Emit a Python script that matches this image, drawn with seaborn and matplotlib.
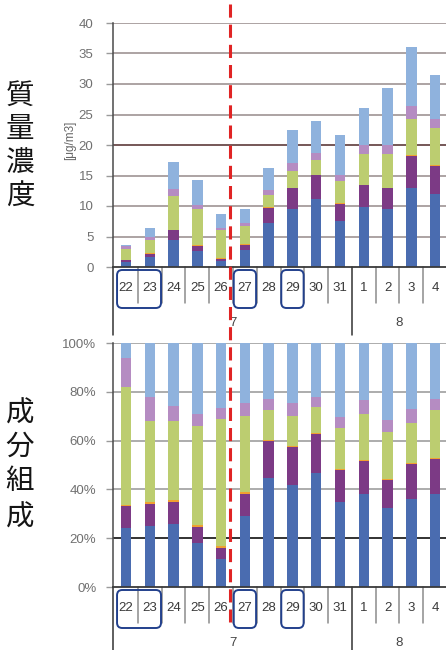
import numpy as np
import pandas as pd
import matplotlib
matplotlib.use("Agg")
import matplotlib.pyplot as plt
import seaborn as sns
from matplotlib.lines import Line2D
from matplotlib.patches import FancyBboxPatch
from matplotlib.transforms import blended_transform_factory

# ---- data -------------------------------------------------------------
days = ["22", "23", "24", "25", "26", "27", "28", "29", "30", "31",
        "1", "2", "3", "4"]
month_labels = ["7", "8"]
month_first = [0, 10]
month_last = [9, 13]
boxed_days = [("22", "23"), ("27", "27"), ("29", "29")]
shift_after = "26"

# total mass concentration [μg/m3]
total_conc = [3.6, 6.4, 17.2, 14.3, 8.7, 9.5, 16.3, 22.5, 23.9, 21.6,
              26.0, 29.3, 36.1, 31.5]

# component composition [%], bottom to top of each bar
share_blue = [24.0, 25.0, 25.8, 18.0, 11.5, 29.0, 44.5, 42.0, 46.6, 35.0,
              38.0, 32.2, 36.0, 38.0]
share_purple = [9.0, 9.0, 9.0, 6.6, 4.5, 9.0, 15.3, 15.5, 16.3, 13.0,
                13.7, 11.8, 14.4, 14.6]
share_orange = [0.8, 0.8, 0.8, 0.8, 1.0, 1.0, 0.3, 0.3, 0.3, 0.3,
                0.3, 0.3, 0.3, 0.3]
share_green = [48.2, 33.2, 32.4, 40.6, 52.0, 31.0, 12.3, 12.2, 10.4, 16.7,
               19.0, 19.2, 16.7, 19.5]
share_pink = [12.0, 10.0, 6.0, 5.0, 4.5, 5.6, 4.8, 5.6, 4.4, 4.6,
              5.7, 4.8, 5.6, 4.8]
share_light = [6.0, 22.0, 26.0, 29.0, 26.5, 24.4, 22.8, 24.4, 22.0, 30.4,
               23.3, 31.7, 27.0, 22.8]

conc_ticks = [0, 5, 10, 15, 20, 25, 30, 35, 40]
pct_ticks = [0, 20, 40, 60, 80, 100]

# ---- styling ------------------------------------------------------------
sns.set_theme(style="white")
plt.rcParams["font.family"] = ["Liberation Sans", "DejaVu Sans"]

component_names = ["blue", "purple", "orange", "green", "pink", "light"]
component_colors = ["#4a6cb0", "#7c3a85", "#f0a030", "#bccd70",
                    "#b58cc2", "#8fb2dd"]

shares = pd.DataFrame(
    dict(zip(component_names, [share_blue, share_purple, share_orange,
                               share_green, share_pink, share_light])),
    index=days)
pct_cum = shares.cumsum(axis=1)
pct_cum = pct_cum.div(pct_cum["light"], axis=0) * 100
conc_cum = pct_cum.mul(np.array(total_conc) / 100.0, axis=0)

W, H = 446, 650
fig = plt.figure(figsize=(W / 100, H / 100), dpi=100)
fig.patch.set_facecolor("white")


def rect(left, top, right, bottom):
    return [left / W, 1 - bottom / H, (right - left) / W, (bottom - top) / H]


ax_top = fig.add_axes(rect(113, 23, 446, 267))
ax_bot = fig.add_axes(rect(113, 343, 446, 587))
AX_H = 244.0  # axes height in pixels
XMIN, XMAX = -0.55, len(days) - 0.54


def draw_stack(ax, cum):
    # cumulative heights drawn from the top component down
    for name, color in reversed(list(zip(component_names, component_colors))):
        sns.barplot(x=days, y=cum[name].values, order=days, color=color,
                    width=0.44, saturation=1, errorbar=None, ax=ax,
                    linewidth=0, edgecolor="none", zorder=2)


def decorate(ax, ticks, ticklabels, grid_color, dark_tick, dark_color, ypad):
    ax.set_xlim(XMIN, XMAX)
    ax.set_ylim(ticks[0], ticks[-1])
    ax.set_xlabel("")
    ax.set_ylabel("")
    for t in ticks[1:]:
        ax.axhline(t, color=dark_color if t == dark_tick else grid_color,
                   lw=1.3, zorder=0.5)
    ax.set_yticks(ticks)
    ax.set_yticklabels(ticklabels)
    ax.tick_params(axis="y", length=5, width=1, color="#9a9a9a",
                   labelcolor="#707070", labelsize=9.5, pad=ypad, left=True)
    ax.set_xticks(range(len(days)))
    ax.set_xticklabels(days)
    ax.tick_params(axis="x", length=0, pad=10.5, labelsize=9.5,
                   labelcolor="#3a3a3a")
    for side in ("top", "right"):
        ax.spines[side].set_visible(False)
    ax.spines["left"].set_color("#4a4a4a")
    ax.spines["left"].set_linewidth(1.1)
    ax.spines["bottom"].set_color("#3a3a3a")
    ax.spines["bottom"].set_linewidth(1.3)
    ax.set_facecolor("white")

    tr = blended_transform_factory(ax.transData, ax.transAxes)
    short = -36 / AX_H
    long_ = -68 / AX_H
    # category separators below the axis
    for i in range(len(days) - 1):
        xs = i + 0.5
        is_group = (i + 1) in month_first
        ax.add_line(Line2D([xs, xs], [0, long_ if is_group else short],
                           transform=tr, clip_on=False,
                           color="#333333" if is_group else "#8c8c8c",
                           lw=1.1))
    ax.add_line(Line2D([XMIN, XMIN], [0, long_], transform=tr,
                       clip_on=False, color="#333333", lw=1.1))
    # month row
    for lab, a, b in zip(month_labels, month_first, month_last):
        ax.text((a + b) / 2, -56 / AX_H, lab, transform=tr, ha="center",
                va="center", fontsize=9.5, color="#444444")
    # rounded boxes around highlighted days
    px_per_unit = (446 - 113) / (XMAX - XMIN)
    for d0, d1 in boxed_days:
        if d0 == d1:
            x0 = days.index(d0) - 0.5
        else:
            x0 = days.index(d0) - 0.41
        x1 = days.index(d1) + 0.5
        box = FancyBboxPatch((x0 + 0.03, -41 / AX_H), x1 - x0 - 0.06,
                             38 / AX_H,
                             boxstyle="round,pad=0,rounding_size=0.22",
                             mutation_aspect=px_per_unit / AX_H,
                             transform=tr, clip_on=False, fill=False,
                             edgecolor="#22408c", lw=1.4, zorder=3)
        ax.add_patch(box)


draw_stack(ax_top, conc_cum)
draw_stack(ax_bot, pct_cum)
decorate(ax_top, conc_ticks, [str(t) for t in conc_ticks],
         "#a69c9c", 20, "#6a4a4a", 9)
decorate(ax_bot, pct_ticks, [f"{t}%" for t in pct_ticks],
         "#a6a6a6", 20, "#222222", 7)

# unit label of the concentration axis
fig.text(70 / W, 1 - 140 / H, "[μg/m3]", rotation=90, ha="center",
         va="center", fontsize=8.5, color="#666666")

# vertical row titles
for chars, centers in (("質量濃度", [96, 129, 163, 197]),
                       ("成分組成", [414, 447, 481, 518])):
    for ch, yc in zip(chars, centers):
        fig.text(20 / W, 1 - yc / H, ch, ha="center", va="center",
                 fontsize=20.5, color="#151515",
                 family=["Noto Sans CJK JP", "DejaVu Sans"])

# red dashed divider between 26 and 27, crossing both panels
x_div = days.index(shift_after) + 0.38
x_disp = ax_top.transData.transform((x_div, 0))[0]
x_fig = x_disp / fig.bbox.width
fig.add_artist(Line2D([x_fig, x_fig], [1 - 4 / H, 1 - 622 / H],
                      transform=fig.transFigure, color="#e02424", lw=2.2,
                      dashes=(4.3, 2.3), zorder=10))

fig.savefig("out.png", dpi=100, facecolor="white")
